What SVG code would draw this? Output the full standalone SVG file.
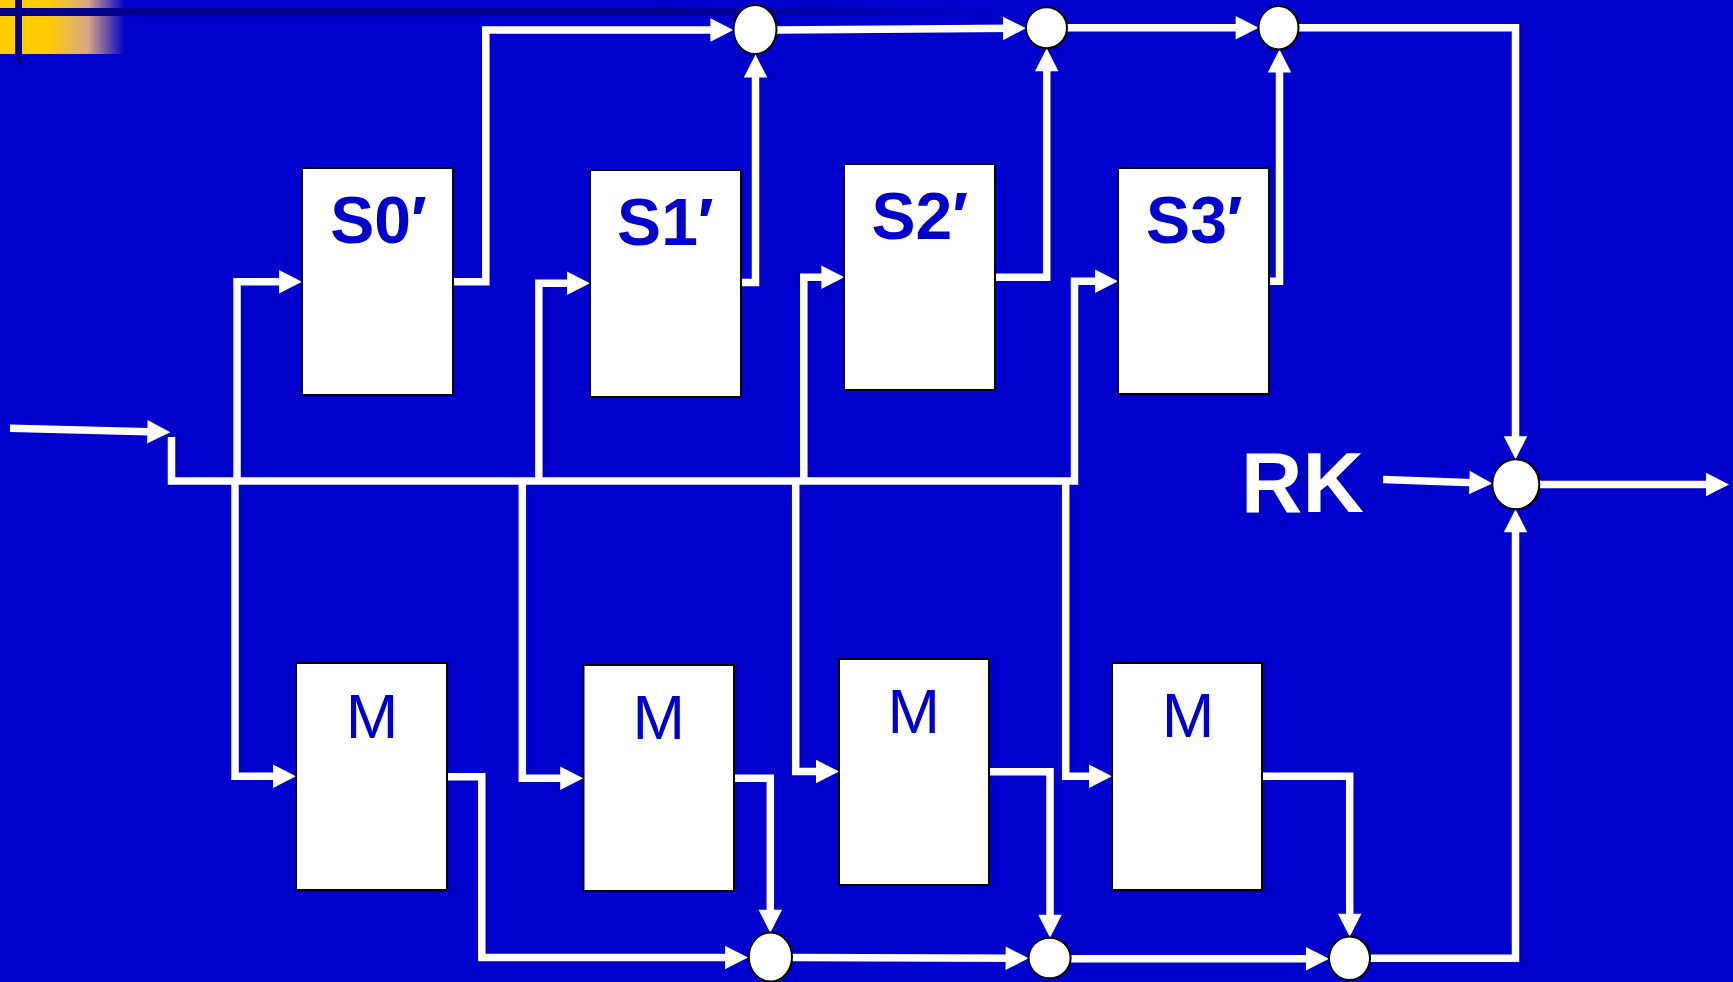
<svg xmlns="http://www.w3.org/2000/svg" width="1733" height="982" viewBox="0 0 1733 982">
<defs>
<linearGradient id="gold" x1="0" y1="0" x2="125" y2="0" gradientUnits="userSpaceOnUse">
<stop offset="0" stop-color="#FFCC00"/>
<stop offset="0.38" stop-color="#FFCC00"/>
<stop offset="0.7" stop-color="#D8A88A"/>
<stop offset="1" stop-color="#0000CC"/>
</linearGradient>
<linearGradient id="band" x1="0" y1="0" x2="1000" y2="0" gradientUnits="userSpaceOnUse">
<stop offset="0" stop-color="#00008C"/>
<stop offset="0.65" stop-color="#00008C"/>
<stop offset="1" stop-color="#0000CC"/>
</linearGradient>
<marker id="ah" markerUnits="userSpaceOnUse" markerWidth="24" markerHeight="24" refX="11" refY="11.75" orient="auto" overflow="visible">
<path d="M0,0 L23,11.75 L0,23.5 Z" fill="#FFFFFF"/>
</marker>
<style>
.ln{fill:none;stroke:#FFFFFF;stroke-width:7.5;stroke-linejoin:miter;stroke-linecap:butt}
.ar{marker-end:url(#ah)}
.box{fill:#FFFFFF;stroke:#000000;stroke-width:2}
.sum{fill:#FFFFFF;stroke:#000000;stroke-width:2}
.st{font-family:"Liberation Sans",Arial,sans-serif;font-weight:bold;font-size:66px;fill:#0000CC;text-anchor:middle}
.mt{font-family:"Liberation Sans",Arial,sans-serif;font-size:63px;fill:#0000CC;text-anchor:middle}
.rk{font-family:"Liberation Sans",Arial,sans-serif;font-weight:bold;font-size:85px;fill:#FFFFFF}
</style>
</defs>
<rect x="0" y="0" width="1733" height="982" fill="#0000CC"/>
<g id="decoration">
<rect x="0" y="0" width="125" height="54" fill="url(#gold)"/>
<rect x="0" y="8" width="1000" height="8" fill="url(#band)"/>
<rect x="15" y="0" width="7" height="64" fill="#00008C"/>
</g>
<g id="connectors">
<path class="ln ar" d="M10,428.3 L158.3,432"/>
<path class="ln ar" d="M171.5,437 V481 H1074.5 V281.2 H1106"/>
<path class="ln ar" d="M237,481 V281.7 H290"/>
<path class="ln ar" d="M235,481 V776.3 H284"/>
<path class="ln ar" d="M538.8,481 V283.3 H578"/>
<path class="ln ar" d="M522.3,481 V778.3 H571.2"/>
<path class="ln ar" d="M803.8,481 V277.2 H832.3"/>
<path class="ln ar" d="M795.7,481 V771.5 H827"/>
<path class="ln ar" d="M1065.7,481 V776.2 H1100"/>
<path class="ln ar" d="M453,281.7 H485.8 V30 H721.4"/>
<path class="ln ar" d="M741,282.5 H755.5 V66.5"/>
<path class="ln ar" d="M995,277.2 H1046.7 V60.3"/>
<path class="ln ar" d="M1269,281.2 H1279.5 V61.4"/>
<path class="ln ar" d="M776.5,30 L1014,28.3"/>
<path class="ln ar" d="M1067,27.8 H1246.6"/>
<path class="ln ar" d="M1298.5,27.8 H1515.5 V447.3"/>
<path class="ln ar" d="M1383,479.5 L1480.3,483"/>
<path class="ln ar" d="M1539,484.5 H1717"/>
<path class="ln ar" d="M1370,958.3 H1515.5 V521.3"/>
<path class="ln ar" d="M447,776.7 H481.8 V957.5 H736"/>
<path class="ln ar" d="M734,778.3 H770.3 V920.7"/>
<path class="ln ar" d="M989,771.7 H1050 V925.7"/>
<path class="ln ar" d="M1262,776.2 H1349.7 V924.7"/>
<path class="ln ar" d="M792,957.5 L1016.6,958.3"/>
<path class="ln ar" d="M1070.7,958.8 H1317"/>
</g>
<g id="S0"><rect class="box" x="302" y="168" width="151" height="227"/><text class="st" x="378.5" y="243">S0′</text></g>
<g id="S1"><rect class="box" x="590" y="170" width="151" height="227"/><text class="st" x="665.4" y="245">S1′</text></g>
<g id="S2"><rect class="box" x="844" y="164" width="151" height="226"/><text class="st" x="919.7" y="239">S2′</text></g>
<g id="S3"><rect class="box" x="1118" y="168" width="151" height="226"/><text class="st" x="1194.4" y="242.7">S3′</text></g>
<g id="M1"><rect class="box" x="296" y="663" width="151" height="227"/><text class="mt" x="372" y="738">M</text></g>
<g id="M2"><rect class="box" x="583.5" y="665" width="150.5" height="226"/><text class="mt" x="658.8" y="739.3">M</text></g>
<g id="M3"><rect class="box" x="839" y="659" width="150" height="226"/><text class="mt" x="913.8" y="732.7">M</text></g>
<g id="M4"><rect class="box" x="1112" y="663" width="150" height="227"/><text class="mt" x="1188" y="736.7">M</text></g>
<g id="C1"><ellipse class="sum" cx="755" cy="29.5" rx="21.5" ry="24.5"/></g>
<g id="C2"><ellipse class="sum" cx="1046.5" cy="27.8" rx="20.5" ry="20.5"/></g>
<g id="C3"><ellipse class="sum" cx="1278.5" cy="27.7" rx="20" ry="21.7"/></g>
<g id="RKsum"><ellipse class="sum" cx="1515.8" cy="484.3" rx="23.5" ry="25"/></g>
<g id="B1"><ellipse class="sum" cx="770.4" cy="957" rx="21.6" ry="24.5"/></g>
<g id="B2"><ellipse class="sum" cx="1049.6" cy="958" rx="21" ry="20.3"/></g>
<g id="B3"><ellipse class="sum" cx="1349.5" cy="958.3" rx="20.5" ry="21.7"/></g>
<g id="RK"><text class="rk" x="1241" y="512">RK</text></g>
</svg>
